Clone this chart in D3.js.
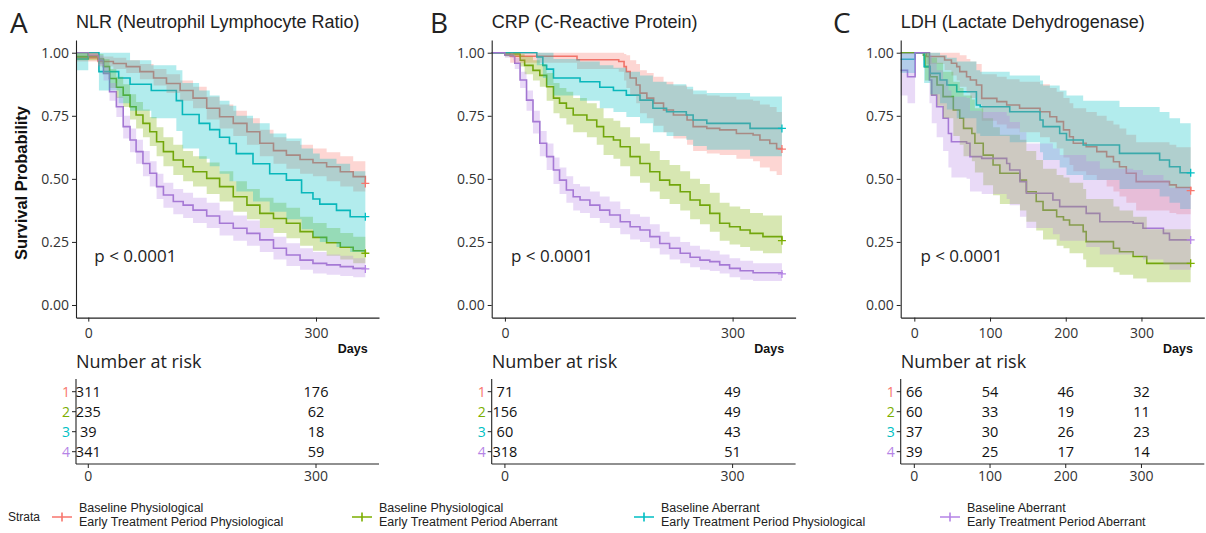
<!DOCTYPE html>
<html>
<head>
<meta charset="utf-8">
<script src="https://cdn.jsdelivr.net/npm/d3@7"></script>
<style>
  body { margin: 0; background: #fff; }
  svg { display: block; }
  .num { font-family: "Open Sans", "Noto Sans", sans-serif; }
  .arial { font-family: "Liberation Sans", Arial, sans-serif; }
</style>
</head>
<body>
<svg id="chart" width="1206" height="533"></svg>
<script>
// strata (legend order) and colours
var baselineLabels = ["Baseline Physiological", "Baseline Physiological", "Baseline Aberrant", "Baseline Aberrant"];
var earlyLabels = ["Early Treatment Period Physiological", "Early Treatment Period Aberrant", "Early Treatment Period Physiological", "Early Treatment Period Aberrant"];
var colors = ["#F8766D", "#7CAE00", "#00BFC4", "#B584E6"];
var lineColors = ["#EE7168", "#6FA312", "#0DB3B8", "#9F74CF"];

var yTicks = [0, 0.25, 0.5, 0.75, 1];

// each row: [days, survival, lower CI, upper CI]
// --- A: NLR ---
var nlr1 = [[-16.2,0.98,0.965,1],[13,0.965,0.945,0.985],[33,0.957,0.935,0.98],[50,0.945,0.92,0.97],[68,0.925,0.895,0.955],[86,0.9,0.87,0.935],[103,0.878,0.84,0.915],[121,0.85,0.81,0.89],[138,0.82,0.78,0.865],[156,0.78,0.735,0.825],[173,0.746,0.7,0.795],[191,0.72,0.67,0.77],[209,0.687,0.635,0.74],[226,0.641,0.59,0.695],[244,0.612,0.56,0.665],[261,0.594,0.54,0.65],[279,0.577,0.52,0.635],[296,0.564,0.51,0.62],[314,0.548,0.49,0.605],[332,0.528,0.47,0.59],[349,0.509,0.45,0.57],[365,0.482,0.43,0.545]];
var nlr2 = [[-16.2,0.985,0.97,1],[13,0.975,0.955,0.995],[20,0.945,0.915,0.975],[28,0.898,0.86,0.935],[37,0.863,0.82,0.905],[46,0.832,0.785,0.875],[55,0.786,0.735,0.835],[63,0.753,0.7,0.805],[72,0.72,0.665,0.775],[81,0.687,0.63,0.745],[90,0.647,0.59,0.705],[99,0.608,0.55,0.665],[112,0.575,0.515,0.635],[125,0.548,0.49,0.61],[138,0.528,0.47,0.59],[156,0.502,0.44,0.565],[173,0.469,0.41,0.53],[191,0.429,0.37,0.49],[209,0.396,0.34,0.46],[226,0.363,0.305,0.425],[244,0.343,0.285,0.405],[261,0.324,0.265,0.385],[279,0.291,0.235,0.35],[296,0.268,0.215,0.325],[314,0.247,0.195,0.305],[332,0.229,0.18,0.285],[349,0.215,0.165,0.27],[365,0.205,0.155,0.26]];
var nlr3 = [[-16.2,0.975,0.93,1],[0,1,1,1],[14,0.925,0.85,1],[40,0.9,0.8,1],[55,0.875,0.77,0.97],[83,0.85,0.74,0.95],[116,0.81,0.69,0.93],[124,0.755,0.62,0.88],[146,0.72,0.58,0.85],[160,0.695,0.55,0.83],[173,0.665,0.52,0.81],[186,0.64,0.49,0.79],[195,0.6,0.45,0.75],[217,0.56,0.41,0.72],[239,0.52,0.37,0.68],[261,0.495,0.34,0.66],[281,0.445,0.3,0.62],[296,0.42,0.27,0.6],[305,0.4,0.25,0.58],[327,0.375,0.23,0.56],[345,0.35,0.21,0.53],[365,0.35,0.21,0.53]];
var nlr4 = [[-16.2,1,1,1],[0,0.99,0.98,1],[13,0.97,0.95,0.99],[20,0.918,0.89,0.945],[28,0.845,0.81,0.88],[37,0.786,0.745,0.825],[46,0.707,0.66,0.75],[55,0.654,0.605,0.7],[63,0.608,0.56,0.655],[72,0.561,0.51,0.61],[81,0.522,0.47,0.57],[90,0.469,0.42,0.52],[99,0.436,0.385,0.485],[112,0.41,0.36,0.46],[125,0.396,0.345,0.445],[138,0.376,0.325,0.425],[156,0.353,0.305,0.405],[173,0.324,0.275,0.375],[191,0.304,0.255,0.355],[209,0.284,0.235,0.335],[226,0.258,0.21,0.305],[244,0.225,0.18,0.27],[261,0.198,0.155,0.245],[279,0.178,0.14,0.225],[296,0.165,0.125,0.21],[314,0.159,0.12,0.2],[332,0.152,0.115,0.195],[349,0.145,0.11,0.185],[365,0.143,0.108,0.182]];
var nlrRisk = [[311,176],[235,62],[39,18],[341,59]];

// --- B: CRP ---
var crp1 = [[-17.4,1,1,1],[7,0.986,0.96,1],[40,0.986,0.96,1],[95,0.972,0.935,1],[150,0.965,0.925,1],[157,0.945,0.89,0.995],[160,0.925,0.86,0.99],[165,0.9,0.83,0.97],[173,0.872,0.8,0.955],[178,0.84,0.76,0.93],[187,0.82,0.74,0.92],[196,0.8,0.71,0.905],[209,0.773,0.685,0.885],[222,0.753,0.66,0.87],[240,0.733,0.635,0.855],[248,0.707,0.61,0.835],[266,0.7,0.6,0.83],[283,0.694,0.595,0.825],[305,0.68,0.58,0.815],[327,0.674,0.57,0.81],[336,0.654,0.545,0.795],[349,0.64,0.53,0.785],[358,0.62,0.515,0.765],[365,0.618,0.515,0.765]];
var crp2 = [[-17.4,1,1,1],[0,0.995,0.985,1],[20,0.97,0.945,0.995],[26,0.95,0.915,0.985],[37,0.93,0.89,0.97],[46,0.91,0.865,0.955],[55,0.865,0.81,0.92],[64,0.82,0.76,0.88],[72,0.8,0.74,0.86],[81,0.78,0.715,0.845],[90,0.753,0.685,0.82],[108,0.733,0.665,0.8],[121,0.707,0.635,0.78],[130,0.667,0.595,0.74],[143,0.654,0.58,0.73],[152,0.627,0.55,0.705],[165,0.588,0.51,0.665],[178,0.561,0.485,0.64],[191,0.528,0.45,0.61],[204,0.495,0.42,0.575],[217,0.476,0.4,0.555],[231,0.449,0.375,0.53],[244,0.416,0.34,0.5],[257,0.396,0.32,0.48],[270,0.363,0.29,0.445],[283,0.324,0.255,0.405],[296,0.31,0.24,0.39],[310,0.297,0.23,0.38],[323,0.284,0.215,0.365],[340,0.271,0.205,0.355],[365,0.255,0.195,0.335]];
var crp3 = [[-17.4,1,1,1],[42,0.983,0.95,1],[50,0.95,0.9,1],[55,0.935,0.87,1],[64,0.9,0.83,0.975],[99,0.885,0.81,0.965],[125,0.863,0.78,0.95],[143,0.85,0.765,0.94],[160,0.832,0.745,0.925],[178,0.812,0.72,0.91],[195,0.78,0.685,0.885],[213,0.766,0.67,0.875],[239,0.753,0.655,0.865],[248,0.733,0.63,0.85],[266,0.72,0.615,0.84],[323,0.7,0.59,0.826],[365,0.7,0.59,0.826]];
var crp4 = [[-17.4,1,1,1],[0,0.99,0.98,1],[11,0.985,0.97,0.995],[13,0.958,0.935,0.98],[20,0.892,0.86,0.925],[28.5,0.812,0.77,0.85],[37,0.727,0.68,0.77],[46,0.641,0.59,0.69],[55,0.588,0.535,0.64],[64,0.535,0.48,0.585],[72,0.495,0.44,0.545],[81,0.456,0.405,0.51],[90,0.429,0.375,0.48],[99,0.416,0.365,0.47],[112,0.396,0.345,0.45],[125,0.376,0.325,0.43],[138,0.357,0.305,0.41],[152,0.33,0.28,0.38],[165,0.31,0.26,0.36],[178,0.297,0.25,0.35],[191,0.271,0.225,0.32],[204,0.244,0.2,0.29],[217,0.225,0.18,0.27],[231,0.205,0.165,0.25],[244,0.189,0.15,0.235],[257,0.178,0.14,0.22],[270,0.172,0.135,0.215],[283,0.159,0.125,0.2],[296,0.145,0.11,0.185],[310,0.136,0.1,0.175],[327,0.128,0.095,0.165],[365,0.123,0.09,0.16]];
var crpRisk = [[71,49],[156,49],[60,43],[318,51]];

// --- C: LDH ---
var ldh1 = [[-18,1,1,1],[16,0.985,0.955,1],[40,0.971,0.93,1],[49,0.958,0.91,1],[56,0.945,0.89,1],[60,0.925,0.865,0.99],[69,0.905,0.84,0.975],[74,0.892,0.82,0.965],[82,0.872,0.795,0.955],[89,0.819,0.73,0.915],[109,0.806,0.715,0.905],[122,0.793,0.7,0.895],[139,0.78,0.685,0.885],[166,0.766,0.665,0.875],[179,0.746,0.645,0.86],[188,0.727,0.62,0.845],[197,0.694,0.585,0.82],[205,0.667,0.555,0.8],[210,0.641,0.53,0.78],[227,0.627,0.515,0.765],[241,0.608,0.495,0.75],[254,0.588,0.47,0.73],[263,0.568,0.45,0.715],[271,0.548,0.43,0.7],[280,0.522,0.405,0.675],[293,0.489,0.375,0.645],[337,0.476,0.365,0.635],[346,0.466,0.36,0.625],[365,0.453,0.36,0.615]];
var ldh2 = [[-18,1,1,1],[12,0.99,0.97,1],[14,0.945,0.89,1],[21,0.905,0.83,0.98],[30,0.872,0.79,0.96],[38,0.826,0.74,0.925],[51.5,0.773,0.67,0.885],[60,0.74,0.635,0.86],[65,0.7,0.59,0.83],[76,0.68,0.57,0.815],[80,0.641,0.525,0.78],[91,0.594,0.475,0.74],[104,0.555,0.435,0.705],[113,0.522,0.4,0.675],[139.5,0.495,0.375,0.655],[148,0.449,0.33,0.61],[161,0.41,0.295,0.575],[170,0.376,0.26,0.54],[188,0.35,0.235,0.515],[197,0.337,0.225,0.505],[205,0.317,0.205,0.485],[223,0.291,0.18,0.46],[227,0.251,0.15,0.42],[263,0.225,0.13,0.39],[271,0.211,0.12,0.375],[289,0.192,0.105,0.35],[307,0.165,0.09,0.3],[365,0.165,0.09,0.3]];
var ldh3 = [[-18,0.974,0.92,1],[1,1,1,1],[13,0.945,0.88,1],[21,0.918,0.835,1],[34,0.892,0.8,0.99],[43,0.872,0.775,0.98],[56,0.845,0.74,0.965],[82,0.793,0.68,0.93],[87,0.786,0.67,0.925],[126,0.766,0.645,0.91],[166,0.733,0.605,0.89],[170,0.707,0.575,0.87],[192,0.68,0.545,0.85],[201,0.654,0.515,0.83],[223,0.634,0.495,0.81],[271,0.601,0.46,0.785],[324,0.575,0.43,0.765],[337,0.548,0.405,0.74],[351,0.524,0.38,0.72],[365,0.524,0.38,0.72]];
var ldh4 = [[-18,0.93,0.83,1],[-9,0.905,0.8,1],[1,1,1,1],[20,0.892,0.8,0.99],[23,0.832,0.72,0.96],[29.5,0.786,0.665,0.93],[38,0.74,0.61,0.895],[45,0.68,0.545,0.85],[49,0.647,0.505,0.825],[69,0.641,0.5,0.82],[73.5,0.588,0.45,0.77],[89,0.581,0.44,0.765],[122,0.561,0.42,0.75],[126,0.535,0.395,0.725],[139.5,0.489,0.35,0.685],[148,0.443,0.305,0.64],[183,0.416,0.28,0.62],[192,0.39,0.255,0.595],[227,0.363,0.23,0.57],[245,0.33,0.2,0.54],[289,0.324,0.195,0.535],[302,0.304,0.18,0.515],[329,0.284,0.16,0.495],[337,0.258,0.14,0.465],[365,0.258,0.14,0.465]];
var ldhRisk = [[66,54,46,32],[60,33,19,11],[37,30,26,23],[39,25,17,14]];

var panels = [
  { letter: "A", title: "NLR (Neutrophil Lymphocyte Ratio)", curves: [nlr1, nlr2, nlr3, nlr4], risk: nlrRisk,
    times: [0, 300], x0: 76, x1: 379, dom: [-16.2, 383], letterX: 10 },
  { letter: "B", title: "CRP (C-Reactive Protein)", curves: [crp1, crp2, crp3, crp4], risk: crpRisk,
    times: [0, 300], x0: 491.7, x1: 795.6, dom: [-17.4, 383], letterX: 430 },
  { letter: "C", title: "LDH (Lactate Dehydrogenase)", curves: [ldh1, ldh2, ldh3, ldh4], risk: ldhRisk,
    times: [0, 100, 200, 300], x0: 900.7, x1: 1204.3, dom: [-18, 383], letterX: 833 }
];

var svg = d3.select("#chart");
var y = d3.scaleLinear().domain([-0.05, 1.05]).range([317.6, 40.1]);

panels.forEach(function (p, pi) {
  var x = d3.scaleLinear().domain(p.dom).range([p.x0, p.x1]);
  var g = svg.append("g");

  g.append("text").attr("class", "num").attr("x", p.letterX).attr("y", 33)
    .attr("font-size", 28).attr("fill", "#222").text(p.letter);
  g.append("text").attr("class", "arial").attr("x", p.x0).attr("y", 28)
    .attr("font-size", 18).attr("fill", "#222").text(p.title);

  var line = d3.line().curve(d3.curveStepAfter).x(function (d) { return x(d[0]); }).y(function (d) { return y(d[1]); });
  var area = d3.area().curve(d3.curveStepAfter).x(function (d) { return x(d[0]); })
    .y0(function (d) { return y(d[2]); }).y1(function (d) { return y(d[3]); });

  // lines first, then the translucent bands over them (as in the original)
  p.curves.forEach(function (c, i) {
    g.append("path").attr("d", line(c)).attr("fill", "none")
      .attr("stroke", lineColors[i]).attr("stroke-width", 1.6);
  });
  p.curves.forEach(function (c, i) {
    g.append("path").attr("d", area(c)).attr("fill", colors[i]).attr("fill-opacity", 0.3);
  });
  p.curves.forEach(function (c, i) {
    var last = c[c.length - 1];
    var cx = x(last[0]), cy = y(last[1]);
    g.append("path").attr("d", "M" + (cx - 4) + "," + cy + "H" + (cx + 4) + "M" + cx + "," + (cy - 4) + "V" + (cy + 4))
      .attr("stroke", colors[i]).attr("stroke-width", 1.3);
  });

  // axes
  var ya = g.append("g").attr("transform", "translate(" + p.x0 + ",0)")
    .call(d3.axisLeft(y).tickValues(yTicks).tickFormat(d3.format(".2f")).tickSize(4).tickSizeOuter(0));
  var xa = g.append("g").attr("transform", "translate(0,317.6)")
    .call(d3.axisBottom(x).tickValues(p.times).tickFormat(d3.format("d")).tickSize(4).tickSizeOuter(0));
  [ya, xa].forEach(function (a) {
    a.selectAll(".domain").attr("stroke", "#222").attr("stroke-width", 1.1);
    a.selectAll(".tick line").attr("stroke", "#222");
    a.selectAll("text").attr("class", "num").attr("font-size", 14).attr("fill", "#333");
  });
  xa.selectAll("text").attr("dy", "0.95em");

  if (pi === 0) {
    g.append("text").attr("class", "arial").attr("font-weight", "bold").attr("font-size", 16.5)
      .attr("text-anchor", "middle").attr("transform", "translate(27,183) rotate(-90)")
      .attr("fill", "#111").text("Survival Probability");
  }
  g.append("text").attr("class", "num").attr("x", x(8)).attr("y", 262)
    .attr("font-size", 17).attr("fill", "#222").text("p < 0.0001");
  g.append("text").attr("class", "arial").attr("font-weight", "bold").attr("font-size", 12.5)
    .attr("text-anchor", "end").attr("x", x(368)).attr("y", 353).attr("fill", "#111").text("Days");

  // risk table
  g.append("text").attr("class", "num").attr("x", p.x0).attr("y", 368)
    .attr("font-size", 18).attr("fill", "#222").text("Number at risk");
  var ry = d3.scalePoint().domain([1, 2, 3, 4]).range([391.7, 451.7]);
  var tg = g.append("g");
  tg.append("line").attr("x1", p.x0).attr("x2", p.x0).attr("y1", 379).attr("y2", 464)
    .attr("stroke", "#222").attr("stroke-width", 1.1);
  tg.append("line").attr("x1", p.x0).attr("x2", p.x1).attr("y1", 464).attr("y2", 464)
    .attr("stroke", "#222").attr("stroke-width", 1.1);
  [1, 2, 3, 4].forEach(function (r, i) {
    tg.append("line").attr("x1", p.x0 - 4).attr("x2", p.x0).attr("y1", ry(r)).attr("y2", ry(r)).attr("stroke", "#222");
    tg.append("text").attr("class", "num").attr("x", p.x0 - 6).attr("y", ry(r)).attr("dy", "0.35em")
      .attr("text-anchor", "end").attr("font-size", 14).attr("fill", colors[i]).text(r);
    p.times.forEach(function (t, j) {
      tg.append("text").attr("class", "num").attr("x", x(t)).attr("y", ry(r)).attr("dy", "0.36em")
        .attr("text-anchor", "middle").attr("font-size", 14.5).attr("fill", "#111").text(p.risk[i][j]);
    });
  });
  p.times.forEach(function (t) {
    tg.append("line").attr("x1", x(t)).attr("x2", x(t)).attr("y1", 464).attr("y2", 468).attr("stroke", "#222");
    tg.append("text").attr("class", "num").attr("x", x(t)).attr("y", 481).attr("text-anchor", "middle")
      .attr("font-size", 14).attr("fill", "#333").text(t);
  });
});

// legend
var legendX = [62, 362, 644, 950];
var lg = svg.append("g").attr("class", "arial");
lg.append("text").attr("x", 8).attr("y", 521).attr("font-size", 12).attr("fill", "#222").text("Strata");
colors.forEach(function (c, i) {
  var cx = legendX[i];
  lg.append("path").attr("d", "M" + (cx - 10) + ",517H" + (cx + 10) + "M" + cx + ",512.5V521.5")
    .attr("stroke", c).attr("stroke-width", 1.6);
  var t = lg.append("text").attr("x", cx + 17).attr("font-size", 12.5).attr("fill", "#222");
  t.append("tspan").attr("x", cx + 17).attr("y", 512).text(baselineLabels[i]);
  t.append("tspan").attr("x", cx + 17).attr("y", 525.5).text(earlyLabels[i]);
});
</script>
</body>
</html>
